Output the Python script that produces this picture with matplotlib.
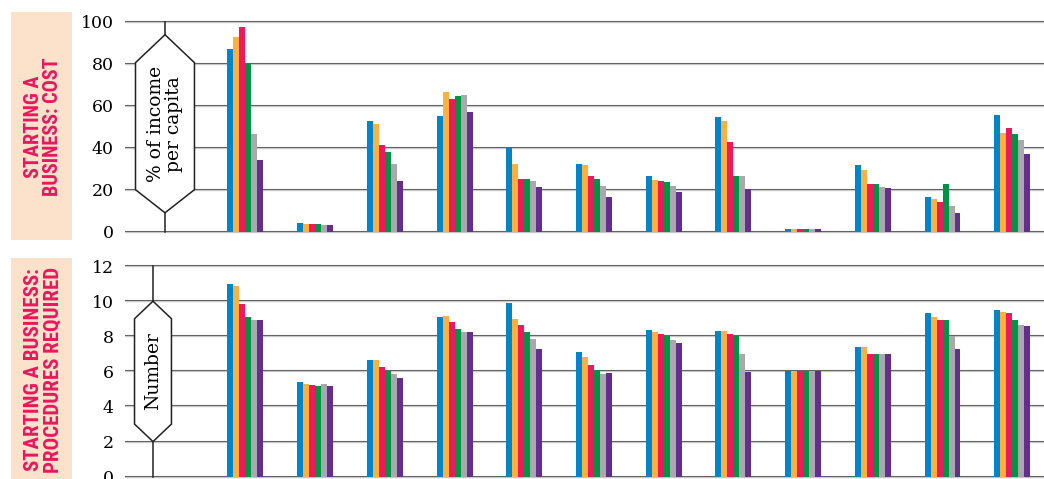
import numpy as np
import matplotlib
matplotlib.use("Agg")
import matplotlib.pyplot as plt
from matplotlib import font_manager
from matplotlib.patches import Polygon, Rectangle

# series: six periods per region, 12 regions
colors = ['#0085ca', '#fbb040', '#ec1a5c', '#009245', '#a7a9ac', '#662d91']

cost = [
    [87.0, 92.7, 97.5, 80.2, 46.5, 34.1],
    [4.1, 3.7, 3.7, 3.7, 3.2, 3.2],
    [52.7, 51.3, 41.3, 37.9, 32.2, 24.1],
    [55.1, 66.5, 63.2, 64.6, 65.1, 57.0],
    [40.0, 32.2, 25.1, 25.1, 24.1, 21.3],
    [32.2, 31.7, 26.5, 25.1, 21.7, 16.5],
    [26.5, 24.6, 24.1, 23.7, 21.7, 18.9],
    [54.6, 52.7, 42.7, 26.5, 26.5, 20.3],
    [1.3, 1.3, 1.3, 1.3, 1.3, 1.3],
    [31.7, 29.4, 22.7, 22.7, 21.3, 20.8],
    [16.5, 15.6, 14.1, 22.7, 12.2, 8.9],
    [55.6, 47.0, 49.4, 46.5, 43.7, 37.0],
]

procedures = [
    [10.95, 10.84, 9.81, 9.07, 8.9, 8.9],
    [5.41, 5.30, 5.24, 5.18, 5.30, 5.18],
    [6.67, 6.67, 6.27, 6.04, 5.87, 5.64],
    [9.07, 9.18, 8.84, 8.44, 8.27, 8.27],
    [9.87, 9.01, 8.67, 8.27, 7.87, 7.30],
    [7.12, 6.84, 6.38, 6.10, 5.87, 5.92],
    [8.38, 8.27, 8.15, 8.04, 7.81, 7.64],
    [8.32, 8.32, 8.15, 8.04, 7.01, 5.98],
    [6.0, 6.0, 6.0, 6.0, 6.0, 6.0],
    [7.41, 7.41, 7.01, 7.0, 7.0, 7.0],
    [9.30, 9.07, 8.95, 8.9, 8.04, 7.30],
    [9.47, 9.41, 9.30, 8.95, 8.67, 8.61],
]

top_ticks = [0, 20, 40, 60, 80, 100]
bot_ticks = [0, 2, 4, 6, 8, 10, 12]

pink = '#e9175e'
peach = '#fce1cb'
serif = 'DejaVu Serif'

# look for a bold condensed sans for the side titles
side_prop = font_manager.FontProperties(family='DejaVu Sans', weight='bold')
files = [f.fname for f in font_manager.fontManager.ttflist]
for key in ['RobotoCondensed-Bold', 'LiberationSansNarrow-Bold.',
            'DejaVuSansCondensed-Bold.', 'OpenSans_Condensed-Bold',
            'NotoSans-CondensedBold', 'Condensed-Bold', 'Narrow-Bold']:
    hits = [p for p in files if key in p.replace(' ', '')]
    if hits:
        side_prop = font_manager.FontProperties(fname=hits[0])
        break

fig = plt.figure(figsize=(10.44, 4.79), dpi=100)

ax1 = fig.add_axes([0.1197, 0.499, 0.8803, 0.4697])
ax2 = fig.add_axes([0.1197, 0.0, 0.8803, 0.453])

bw = 0.086


def draw_panel(ax, data, ticks, ylim, vline_x, hexagon, label):
    data = np.array(data)
    x = np.arange(data.shape[0])
    for k in range(data.shape[1]):
        ax.bar(x + (k - 2.5) * bw, data[:, k], width=bw, color=colors[k],
               zorder=3, linewidth=0)
    for t in ticks:
        ax.axhline(t, color='#5e5e5e', lw=1.5, zorder=1)
        ax.axhline(t, color='#c8c8c8', lw=0.8, zorder=1.5)
    ax.set_xlim(-1.729, 11.456)
    ax.set_ylim(*ylim)
    ax.set_xticks([])
    ax.set_yticks(ticks)
    ax.set_yticklabels([str(t) for t in ticks], family=serif, fontsize=12.5)
    ax.tick_params(axis='y', length=0, pad=8)
    for s in ax.spines.values():
        s.set_visible(False)
    # hexagon label on a vertical stem
    ax.plot([vline_x, vline_x], [ticks[0], ticks[-1]], color='#222222',
            lw=1.1, zorder=4)
    hw, ytop, yhi, ylo, ybot = hexagon
    pts = [(vline_x, ytop), (vline_x + hw, yhi), (vline_x + hw, ylo),
           (vline_x, ybot), (vline_x - hw, ylo), (vline_x - hw, yhi)]
    ax.add_patch(Polygon(pts, closed=True, facecolor='white',
                         edgecolor='#222222', lw=1.1, zorder=5))
    ax.text(vline_x, (ytop + ybot) / 2, label, rotation=90, ha='center',
            va='center', family=serif, fontsize=13.5, linespacing=1.0,
            zorder=6)


draw_panel(ax1, cost, top_ticks, (-3.95, 103.2), -1.155,
           (0.423, 93.8, 80.5, 20, 9), '% of income\nper capita')
draw_panel(ax2, procedures, bot_ticks, (-0.13, 12.23), -1.327,
           (0.265, 10, 9, 3, 2), 'Number')

# side title boxes
fig.patches.append(Rectangle((11 / 1044, 1 - 240 / 479), 61 / 1044, 228 / 479,
                             transform=fig.transFigure, facecolor=peach,
                             edgecolor='none'))
fig.patches.append(Rectangle((11 / 1044, 0), 61 / 1044, (479 - 258) / 479,
                             transform=fig.transFigure, facecolor=peach,
                             edgecolor='none'))


def side_title(y_px, text, target_px):
    t = fig.text(43 / 1044, 1 - y_px / 479, text, rotation=90, ha='center',
                 va='center', color=pink, fontproperties=side_prop,
                 linespacing=1.05)
    t.set_fontsize(14)
    r = fig.canvas.get_renderer()
    h = t.get_window_extent(r).height
    t.set_fontsize(14 * target_px / h)


side_title(127, 'STARTING A\nBUSINESS: COST', 140)
side_title(370, 'STARTING A BUSINESS:\nPROCEDURES REQUIRED', 206)

fig.savefig('out.png', dpi=100)
